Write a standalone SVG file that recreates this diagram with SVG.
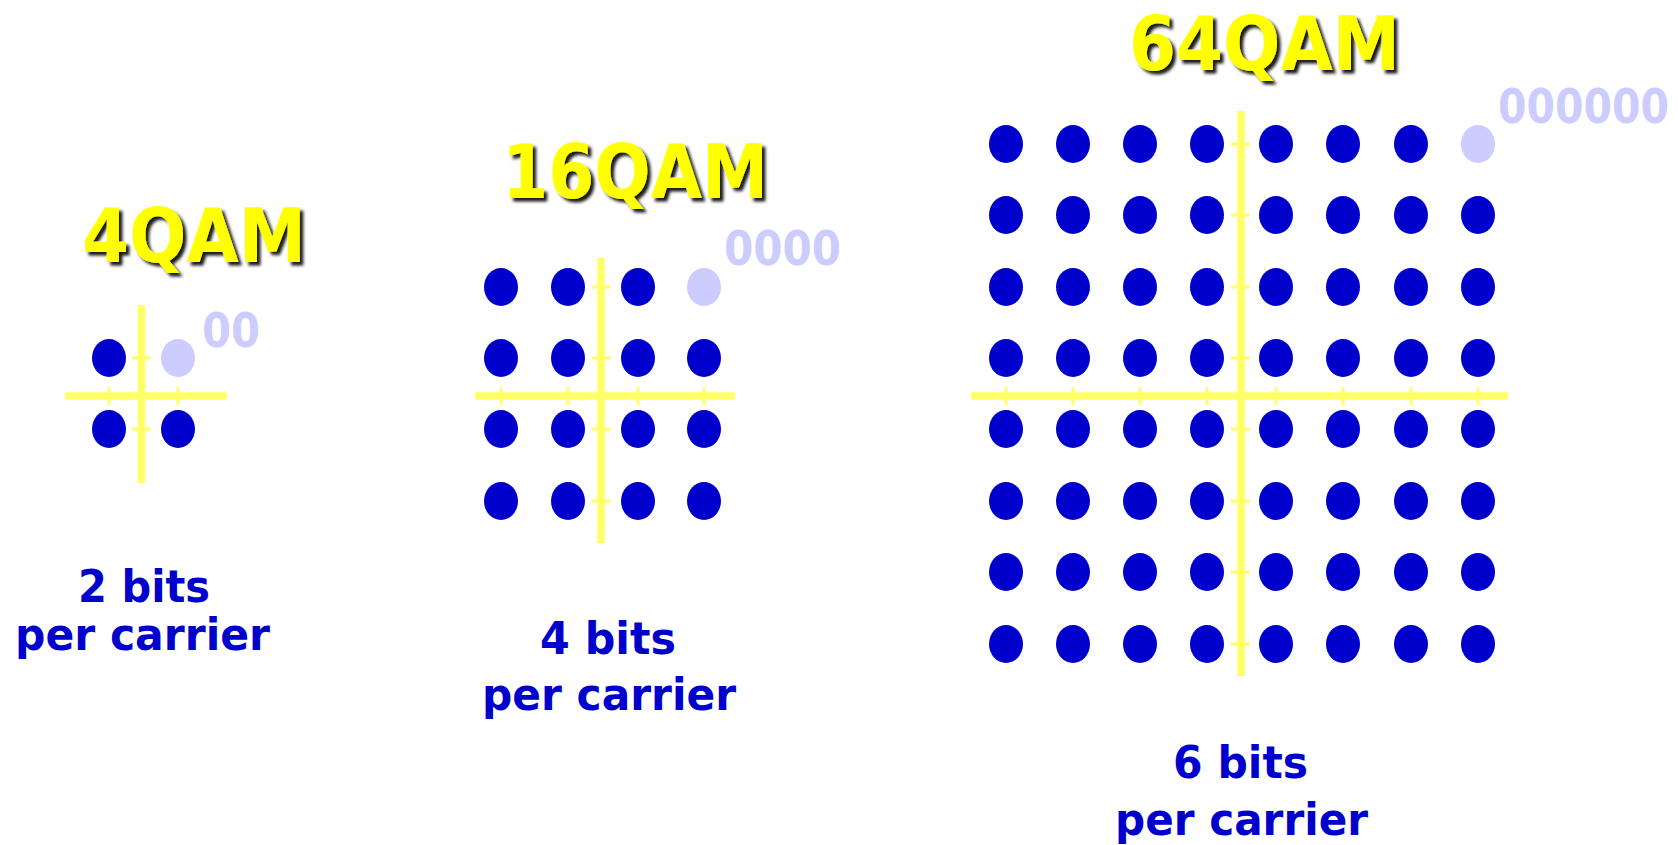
<svg xmlns="http://www.w3.org/2000/svg" width="1678" height="845" viewBox="0 0 1678 845">
<defs>
  <filter id="sh" x="-10%" y="-20%" width="130%" height="150%">
    <feDropShadow dx="3.5" dy="3.5" stdDeviation="1.5" flood-color="#000000" flood-opacity="0.9"/>
  </filter>
</defs>
<style>
.dot{fill:#0000CC}
.ref{fill:#CCCCFF}
.axis{stroke:#FFFF66;stroke-width:7.5;fill:none}
.tick{stroke:#FFFF66;stroke-width:3;fill:none}
.title{font-family:"DejaVu Sans",sans-serif;font-weight:bold;font-size:74px;fill:#FFFF00;filter:url(#sh)}
.code{font-family:"DejaVu Sans",sans-serif;font-weight:bold;font-size:48px;fill:#CCCCFF}
.lbl{font-family:"DejaVu Sans",sans-serif;font-weight:bold;font-size:44px;fill:#0000CC}
</style>
<rect width="1678" height="845" fill="#FFFFFF"/>

<g id="qam4">
  <line class="axis" x1="141.5" y1="305" x2="141.5" y2="483"/>
  <line class="axis" x1="65" y1="396" x2="227" y2="396"/>
  <g class="tick">
    <line x1="132" y1="358" x2="151" y2="358"/>
    <line x1="132" y1="429" x2="151" y2="429"/>
    <line x1="109" y1="387" x2="109" y2="405"/>
    <line x1="178" y1="387" x2="178" y2="405"/>
  </g>
  <ellipse class="dot" cx="109" cy="358" rx="17" ry="19"/>
  <ellipse class="ref" cx="178" cy="358" rx="17" ry="19"/>
  <ellipse class="dot" cx="109" cy="429" rx="17" ry="19"/>
  <ellipse class="dot" cx="178" cy="429" rx="17" ry="19"/>
  <text class="title" x="82" y="262" textLength="224" lengthAdjust="spacingAndGlyphs">4QAM</text>
  <text class="code" x="202" y="347" textLength="58" lengthAdjust="spacingAndGlyphs">00</text>
  <text class="lbl" x="78" y="602" textLength="132" lengthAdjust="spacingAndGlyphs">2 bits</text>
  <text class="lbl" x="15" y="650" textLength="255" lengthAdjust="spacingAndGlyphs">per carrier</text>
</g>

<g id="qam16">
  <line class="axis" x1="601" y1="258" x2="601" y2="543"/>
  <line class="axis" x1="475" y1="396" x2="735" y2="396"/>
  <g class="tick">
    <line x1="592" y1="287" x2="611" y2="287"/>
    <line x1="592" y1="358" x2="611" y2="358"/>
    <line x1="592" y1="429" x2="611" y2="429"/>
    <line x1="592" y1="501" x2="611" y2="501"/>
    <line x1="501" y1="387" x2="501" y2="405"/>
    <line x1="568" y1="387" x2="568" y2="405"/>
    <line x1="638" y1="387" x2="638" y2="405"/>
    <line x1="704" y1="387" x2="704" y2="405"/>
  </g>
  <g class="dot">
    <ellipse cx="501" cy="287" rx="17" ry="19"/><ellipse cx="568" cy="287" rx="17" ry="19"/><ellipse cx="638" cy="287" rx="17" ry="19"/>
    <ellipse cx="501" cy="358" rx="17" ry="19"/><ellipse cx="568" cy="358" rx="17" ry="19"/><ellipse cx="638" cy="358" rx="17" ry="19"/><ellipse cx="704" cy="358" rx="17" ry="19"/>
    <ellipse cx="501" cy="429" rx="17" ry="19"/><ellipse cx="568" cy="429" rx="17" ry="19"/><ellipse cx="638" cy="429" rx="17" ry="19"/><ellipse cx="704" cy="429" rx="17" ry="19"/>
    <ellipse cx="501" cy="501" rx="17" ry="19"/><ellipse cx="568" cy="501" rx="17" ry="19"/><ellipse cx="638" cy="501" rx="17" ry="19"/><ellipse cx="704" cy="501" rx="17" ry="19"/>
  </g>
  <ellipse class="ref" cx="704" cy="287" rx="17" ry="19"/>
  <text class="title" x="502" y="198" textLength="266" lengthAdjust="spacingAndGlyphs">16QAM</text>
  <text class="code" x="724" y="265" textLength="117" lengthAdjust="spacingAndGlyphs">0000</text>
  <text class="lbl" x="540" y="654" textLength="136" lengthAdjust="spacingAndGlyphs">4 bits</text>
  <text class="lbl" x="482" y="710" textLength="254" lengthAdjust="spacingAndGlyphs">per carrier</text>
</g>

<g id="qam64">
  <line class="axis" x1="1241" y1="111" x2="1241" y2="676"/>
  <line class="axis" x1="971" y1="396" x2="1508" y2="396"/>
  <g class="tick">
    <line x1="1231" y1="144" x2="1250" y2="144"/>
    <line x1="1231" y1="215" x2="1250" y2="215"/>
    <line x1="1231" y1="287" x2="1250" y2="287"/>
    <line x1="1231" y1="358" x2="1250" y2="358"/>
    <line x1="1231" y1="429" x2="1250" y2="429"/>
    <line x1="1231" y1="501" x2="1250" y2="501"/>
    <line x1="1231" y1="572" x2="1250" y2="572"/>
    <line x1="1231" y1="644" x2="1250" y2="644"/>
    <line x1="1006" y1="387" x2="1006" y2="405"/>
    <line x1="1073" y1="387" x2="1073" y2="405"/>
    <line x1="1140" y1="387" x2="1140" y2="405"/>
    <line x1="1207" y1="387" x2="1207" y2="405"/>
    <line x1="1276" y1="387" x2="1276" y2="405"/>
    <line x1="1343" y1="387" x2="1343" y2="405"/>
    <line x1="1411" y1="387" x2="1411" y2="405"/>
    <line x1="1478" y1="387" x2="1478" y2="405"/>
  </g>
  <g class="dot">
    <ellipse cx="1006" cy="144" rx="17" ry="19"/><ellipse cx="1073" cy="144" rx="17" ry="19"/><ellipse cx="1140" cy="144" rx="17" ry="19"/><ellipse cx="1207" cy="144" rx="17" ry="19"/><ellipse cx="1276" cy="144" rx="17" ry="19"/><ellipse cx="1343" cy="144" rx="17" ry="19"/><ellipse cx="1411" cy="144" rx="17" ry="19"/>
    <ellipse cx="1006" cy="215" rx="17" ry="19"/><ellipse cx="1073" cy="215" rx="17" ry="19"/><ellipse cx="1140" cy="215" rx="17" ry="19"/><ellipse cx="1207" cy="215" rx="17" ry="19"/><ellipse cx="1276" cy="215" rx="17" ry="19"/><ellipse cx="1343" cy="215" rx="17" ry="19"/><ellipse cx="1411" cy="215" rx="17" ry="19"/><ellipse cx="1478" cy="215" rx="17" ry="19"/>
    <ellipse cx="1006" cy="287" rx="17" ry="19"/><ellipse cx="1073" cy="287" rx="17" ry="19"/><ellipse cx="1140" cy="287" rx="17" ry="19"/><ellipse cx="1207" cy="287" rx="17" ry="19"/><ellipse cx="1276" cy="287" rx="17" ry="19"/><ellipse cx="1343" cy="287" rx="17" ry="19"/><ellipse cx="1411" cy="287" rx="17" ry="19"/><ellipse cx="1478" cy="287" rx="17" ry="19"/>
    <ellipse cx="1006" cy="358" rx="17" ry="19"/><ellipse cx="1073" cy="358" rx="17" ry="19"/><ellipse cx="1140" cy="358" rx="17" ry="19"/><ellipse cx="1207" cy="358" rx="17" ry="19"/><ellipse cx="1276" cy="358" rx="17" ry="19"/><ellipse cx="1343" cy="358" rx="17" ry="19"/><ellipse cx="1411" cy="358" rx="17" ry="19"/><ellipse cx="1478" cy="358" rx="17" ry="19"/>
    <ellipse cx="1006" cy="429" rx="17" ry="19"/><ellipse cx="1073" cy="429" rx="17" ry="19"/><ellipse cx="1140" cy="429" rx="17" ry="19"/><ellipse cx="1207" cy="429" rx="17" ry="19"/><ellipse cx="1276" cy="429" rx="17" ry="19"/><ellipse cx="1343" cy="429" rx="17" ry="19"/><ellipse cx="1411" cy="429" rx="17" ry="19"/><ellipse cx="1478" cy="429" rx="17" ry="19"/>
    <ellipse cx="1006" cy="501" rx="17" ry="19"/><ellipse cx="1073" cy="501" rx="17" ry="19"/><ellipse cx="1140" cy="501" rx="17" ry="19"/><ellipse cx="1207" cy="501" rx="17" ry="19"/><ellipse cx="1276" cy="501" rx="17" ry="19"/><ellipse cx="1343" cy="501" rx="17" ry="19"/><ellipse cx="1411" cy="501" rx="17" ry="19"/><ellipse cx="1478" cy="501" rx="17" ry="19"/>
    <ellipse cx="1006" cy="572" rx="17" ry="19"/><ellipse cx="1073" cy="572" rx="17" ry="19"/><ellipse cx="1140" cy="572" rx="17" ry="19"/><ellipse cx="1207" cy="572" rx="17" ry="19"/><ellipse cx="1276" cy="572" rx="17" ry="19"/><ellipse cx="1343" cy="572" rx="17" ry="19"/><ellipse cx="1411" cy="572" rx="17" ry="19"/><ellipse cx="1478" cy="572" rx="17" ry="19"/>
    <ellipse cx="1006" cy="644" rx="17" ry="19"/><ellipse cx="1073" cy="644" rx="17" ry="19"/><ellipse cx="1140" cy="644" rx="17" ry="19"/><ellipse cx="1207" cy="644" rx="17" ry="19"/><ellipse cx="1276" cy="644" rx="17" ry="19"/><ellipse cx="1343" cy="644" rx="17" ry="19"/><ellipse cx="1411" cy="644" rx="17" ry="19"/><ellipse cx="1478" cy="644" rx="17" ry="19"/>
  </g>
  <ellipse class="ref" cx="1478" cy="144" rx="17" ry="19"/>
  <text class="title" x="1129" y="70" textLength="271" lengthAdjust="spacingAndGlyphs">64QAM</text>
  <text class="code" style="font-size:41px" transform="translate(1498,123) scale(1,1.17)" x="0" y="0">000000</text>
  <text class="lbl" x="1173" y="778" textLength="135" lengthAdjust="spacingAndGlyphs">6 bits</text>
  <text class="lbl" x="1115" y="835" textLength="253" lengthAdjust="spacingAndGlyphs">per carrier</text>
</g>

<g id="connectors"></g>
</svg>
